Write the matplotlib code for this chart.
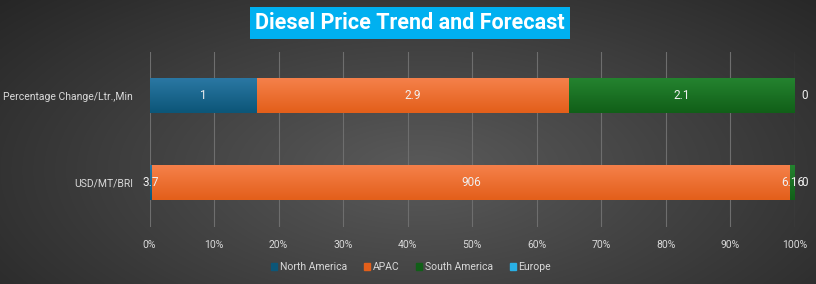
import matplotlib.pyplot as plt
import matplotlib.colors as mcolors
import numpy as np
from matplotlib.ticker import PercentFormatter

# data
categories = ['USD/MT/BRI', 'Percentage Change/Ltr.,Min']
series = ['North America', 'APAC', 'South America', 'Europe']
values = {
    'North America': [3.7, 1],
    'APAC': [906, 2.9],
    'South America': [6.16, 2.1],
    'Europe': [0, 0],
}
colors = {
    'North America': ('#2a77a3', '#0c5678'),
    'APAC': ('#f5804a', '#e35f1a'),
    'South America': ('#24832f', '#115f18'),
    'Europe': ('#29b0e6', '#1696cc'),
}
ticks = np.arange(0, 1.01, 0.1)

txt = '#d9d9d9'
plt.rcParams['font.family'] = ['Roboto', 'DejaVu Sans']

fig = plt.figure(figsize=(8.16, 2.84), dpi=100)

# radial background
bg = fig.add_axes([0, 0, 1, 1], zorder=-10)
yy, xx = np.mgrid[0:284, 0:816]
r = np.sqrt(((xx - 420) / 560) ** 2 + ((yy - 170) / 260) ** 2)
cm = mcolors.LinearSegmentedColormap.from_list('bg', ['#5a5a5a', '#262626'])
bg.imshow(np.clip(r, 0, 1), cmap=cm, aspect='auto', vmin=0, vmax=1)
bg.axis('off')

ax = fig.add_axes([149.5 / 816, 1 - 227 / 284, 645.2 / 816, 175 / 284])
ax.patch.set_alpha(0)

totals = np.sum([values[s] for s in series], axis=0)
ypos = np.arange(len(categories))
left = np.zeros(len(categories))
h = 0.402
for s in series:
    frac = np.array(values[s]) / totals
    bars = ax.barh(ypos, frac, left=left, height=h, color=colors[s][1],
                   label=s, zorder=3)
    for b, v, f, l, y in zip(bars, values[s], frac, left, ypos):
        if f > 0:
            grad = np.linspace(0, 1, 50).reshape(-1, 1)
            gcm = mcolors.LinearSegmentedColormap.from_list('g', colors[s])
            im = ax.imshow(grad, cmap=gcm, aspect='auto', zorder=3.5,
                           extent=(l, l + f, y - h / 2, y + h / 2))
            im.set_clip_path(b)
            xc = l + f / 2
        else:
            xc = l + 0.016
        ax.text(xc, y, f'{v:g}', ha='center', va='center', color='#f0f0f0',
                fontsize=8.5, zorder=5)
    left += frac

ax.set_xlim(0, 1)
ax.set_ylim(-0.511, 1.5)
ax.set_xticks(ticks)
ax.xaxis.set_major_formatter(PercentFormatter(1, decimals=0))
ax.set_yticks(ypos)
ax.set_yticklabels(categories)
ax.grid(axis='x', color='#6e6e6e', lw=0.8, zorder=0)
ax.tick_params(length=0, colors=txt, labelsize=7.5)
ax.tick_params(axis='x', pad=9)
ax.tick_params(axis='y', pad=12)
for sp in ax.spines.values():
    sp.set_visible(False)

handles, labels = ax.get_legend_handles_labels()
leg = fig.legend(handles, labels, loc='center', bbox_to_anchor=(411 / 816, 1 - 267 / 284),
                 ncol=4, frameon=False, fontsize=7.5, handlelength=0.6,
                 handleheight=0.6, handletextpad=0.25, columnspacing=1.6,
                 labelcolor=txt)
for hnd, s in zip(leg.legend_handles, series):
    hnd.set_color(colors[s][0] if s == 'Europe' else colors[s][1])

fig.text(410, 284 - 23, 'Diesel Price Trend and Forecast', transform=None,
         ha='center', va='center', color='white', fontsize=15.5,
         fontweight='bold',
         bbox=dict(boxstyle='square,pad=0.25', fc='#00b0f0', ec='none'))

fig.savefig('out.png', dpi=100)
